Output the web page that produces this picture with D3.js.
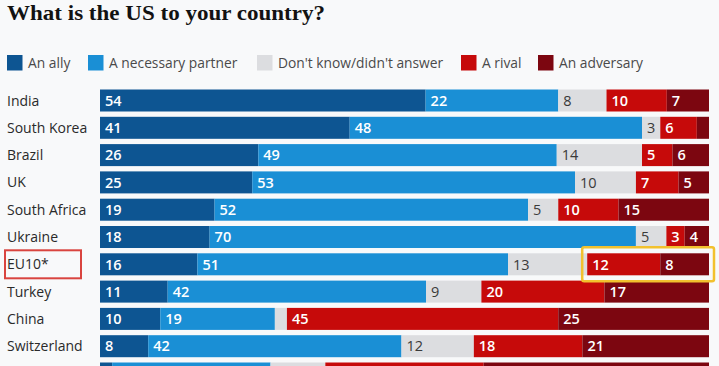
<!DOCTYPE html>
<html>
<head>
<meta charset="utf-8">
<script src="https://cdn.jsdelivr.net/npm/d3@7"></script>
<style>
  html, body { margin: 0; padding: 0; background: #f8f9fa; }
  svg { display: block; }
</style>
</head>
<body>
<svg id="chart" width="719" height="366"></svg>
<script>
// ---------- data ----------
const title = "What is the US to your country?";
const categories = ["India", "South Korea", "Brazil", "UK", "South Africa", "Ukraine", "EU10*", "Turkey", "China", "Switzerland", ""];
const seriesNames = ["An ally", "A necessary partner", "Don't know/didn't answer", "A rival", "An adversary"];
const ally       = [54, 41, 26, 25, 19, 18, 16, 11, 10,  8,  2];
const partner    = [22, 48, 49, 53, 52, 70, 51, 42, 19, 42, 26];
const dontKnow   = [ 8,  3, 14, 10,  5,  5, 13,  9,  2, 12,  9];
const rival      = [10,  6,  5,  7, 10,  3, 12, 20, 45, 18, 26];
const adversary  = [ 7,  2,  6,  5, 15,  4,  8, 17, 25, 21, 37];
const highlightedCategory = "EU10*";
const highlightedSeries = ["A rival", "An adversary"];

// ---------- style ----------
const colors = ["#0d5592", "#1a8fd5", "#dcdde0", "#c60a0a", "#7c0610"];
const labelColors = ["#ffffff", "#ffffff", "#3a3a3a", "#ffffff", "#ffffff"];

const svg = d3.select("#chart");
const W = 719, H = 366;
svg.append("rect").attr("width", W).attr("height", H).attr("fill", "#f8f9fa");

// title
svg.append("text")
  .attr("x", 7).attr("y", 20)
  .attr("font-family", "'Liberation Serif', 'DejaVu Serif', serif")
  .attr("font-weight", "bold")
  .attr("font-size", 22)
  .attr("fill", "#121212")
  .attr("textLength", 318)
  .attr("lengthAdjust", "spacingAndGlyphs")
  .text(title);

// legend
const legendX = [7, 88, 257, 461, 538];
const legend = svg.append("g");
seriesNames.forEach((name, i) => {
  const g = legend.append("g").attr("transform", `translate(${legendX[i]},55)`);
  g.append("rect").attr("width", 15.5).attr("height", 15.5).attr("fill", colors[i]);
  g.append("text")
    .attr("x", 21).attr("y", 8).attr("dy", "0.36em")
    .attr("font-family", "'Open Sans', sans-serif")
    .attr("font-size", 13.8)
    .attr("fill", "#4a4a4a")
    .text(name);
});

// stacked data
const rows = categories.map((c, i) => ({
  cat: c,
  [seriesNames[0]]: ally[i],
  [seriesNames[1]]: partner[i],
  [seriesNames[2]]: dontKnow[i],
  [seriesNames[3]]: rival[i],
  [seriesNames[4]]: adversary[i]
}));
const stack = d3.stack().keys(seriesNames).offset(d3.stackOffsetExpand);
const series = stack(rows);

const x = d3.scaleLinear().domain([0, 1]).range([100, 709]);
const y = d3.scaleBand()
  .domain(categories.map((c, i) => i))
  .range([89.5, 89.5 + 27.3 * (categories.length - 0.194)])
  .paddingInner(0.194)
  .paddingOuter(0);

// category labels
svg.append("g").selectAll("text")
  .data(categories)
  .join("text")
  .attr("x", 7)
  .attr("y", (d, i) => y(i) + y.bandwidth() / 2)
  .attr("dy", "0.36em")
  .attr("font-family", "'Open Sans', sans-serif")
  .attr("font-size", 14)
  .attr("fill", "#2a2a2a")
  .text(d => d);

// bars
const gBars = svg.append("g");
series.forEach((s, si) => {
  const g = gBars.append("g");
  g.selectAll("rect")
    .data(s)
    .join("rect")
    .attr("x", d => x(d[0]))
    .attr("y", (d, i) => y(i))
    .attr("width", d => Math.max(0, x(d[1]) - x(d[0])))
    .attr("height", y.bandwidth())
    .attr("fill", colors[si]);
  g.selectAll("text")
    .data(s.map((d, i) => ({ d, i, v: d.data[seriesNames[si]], cat: d.data.cat }))
           .filter(o => o.v >= 3 && o.cat !== ""))
    .join("text")
    .attr("x", o => x(o.d[0]) + 5)
    .attr("y", o => y(o.i) + y.bandwidth() / 2)
    .attr("dy", "0.36em")
    .attr("font-family", "'Open Sans', sans-serif")
    .attr("font-weight", si === 2 ? 400 : 600)
    .attr("font-size", 14.5)
    .attr("fill", labelColors[si])
    .text(o => o.v);
});

// annotations
const hi = categories.indexOf(highlightedCategory);
svg.append("rect")
  .attr("x", 5).attr("y", y(hi) - 3)
  .attr("width", 76).attr("height", y.bandwidth() + 6)
  .attr("fill", "none")
  .attr("stroke", "#d9443f")
  .attr("stroke-width", 2);

const rivalStart = series[seriesNames.indexOf(highlightedSeries[0])][hi][0];
const advEnd = series[seriesNames.indexOf(highlightedSeries[1])][hi][1];
svg.append("rect")
  .attr("x", x(rivalStart) - 5).attr("y", y(hi) - 6)
  .attr("width", x(advEnd) - x(rivalStart) + 10).attr("height", y.bandwidth() + 12)
  .attr("rx", 2)
  .attr("fill", "none")
  .attr("stroke", "#f2c12e")
  .attr("stroke-width", 2.5);
</script>
</body>
</html>
